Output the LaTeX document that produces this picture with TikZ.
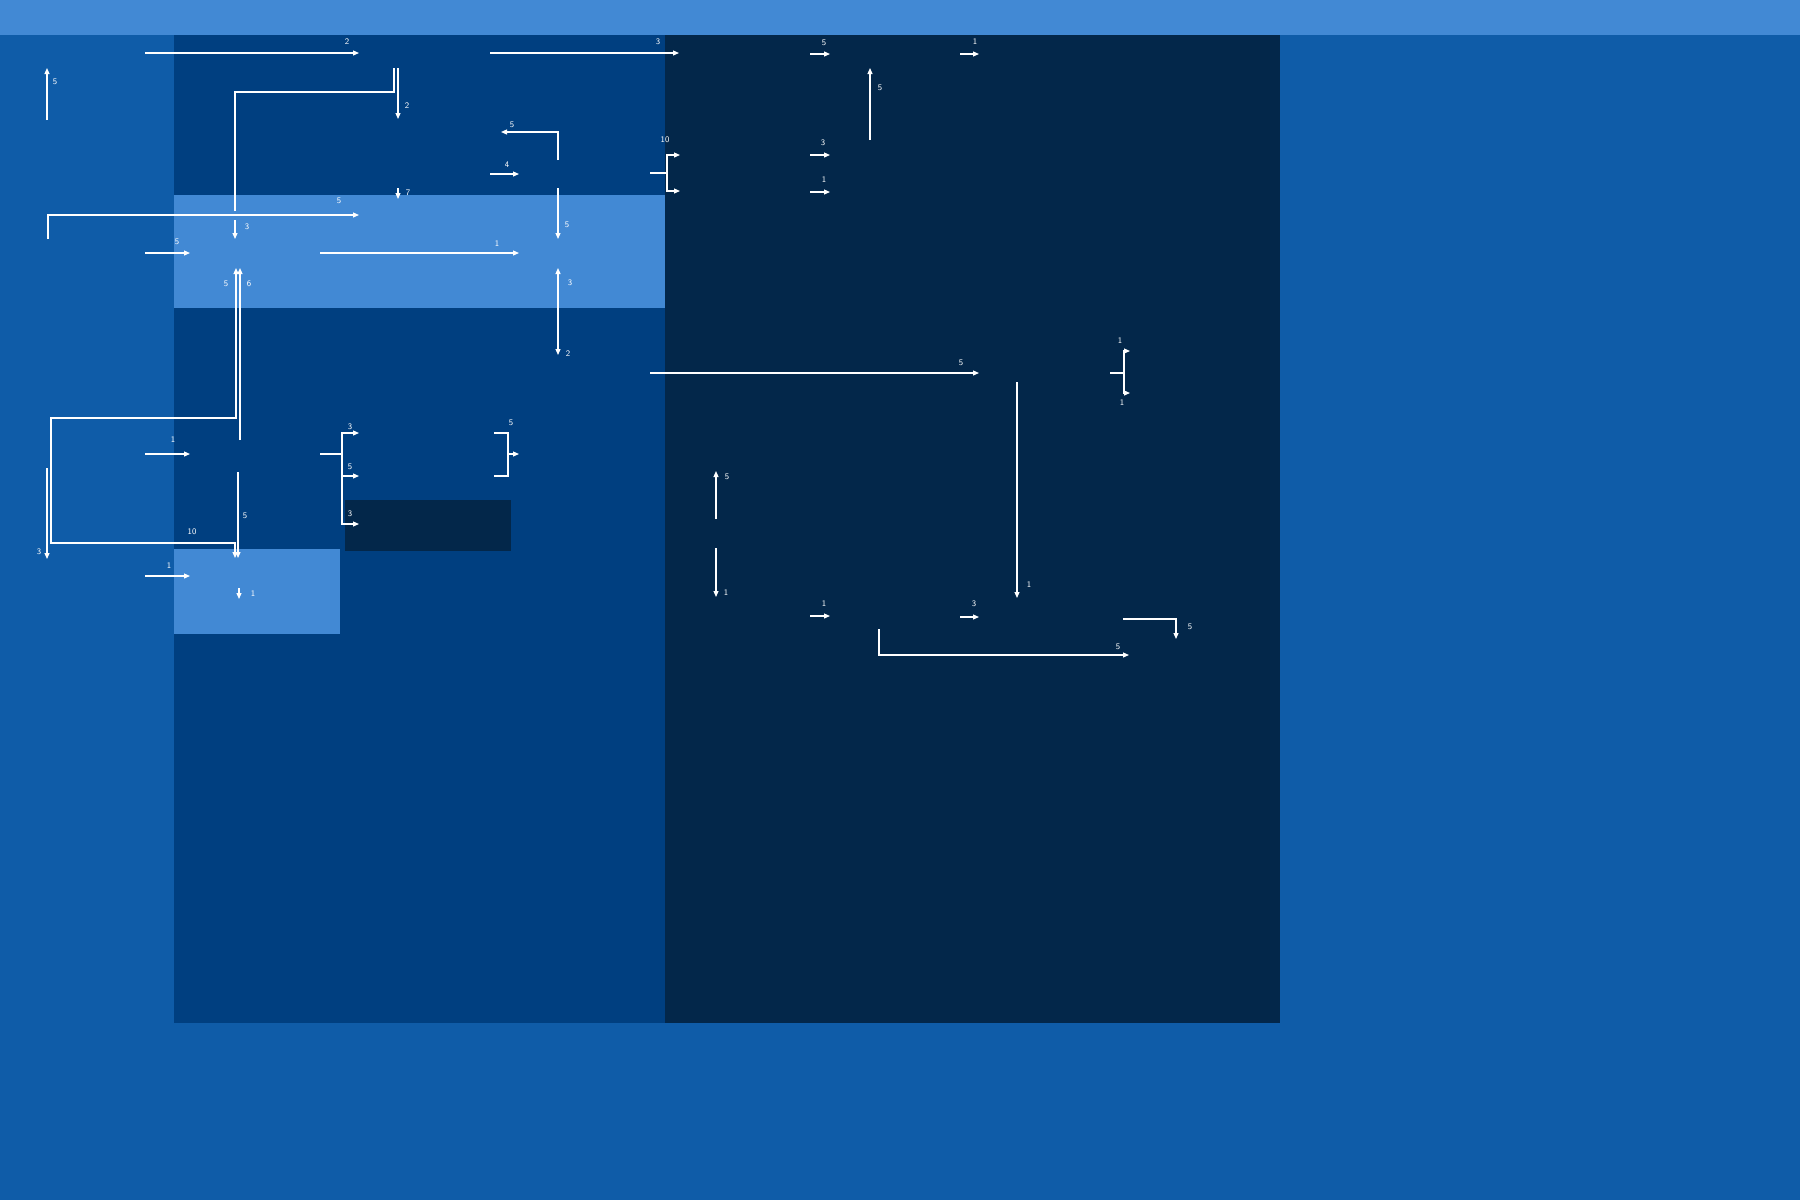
\documentclass[tikz,border=0pt]{standalone}
\usetikzlibrary{arrows.meta}
\definecolor{bgMid}{HTML}{0F5CA8}
\definecolor{barLight}{HTML}{4289D4}
\definecolor{laneBlue}{HTML}{003F80}
\definecolor{laneNavy}{HTML}{03274A}

\begin{document}
\begin{tikzpicture}[x=1pt, y=-1pt, >={Triangle[length=6pt, width=5pt]},
          flow/.style={draw=white, line width=1.2pt},
          tip/.style={flow, ->},
          lbl/.style={text=white, inner sep=0pt, font=\sffamily\fontsize{8.5}{9}\selectfont}]
        \useasboundingbox (0,0) rectangle (1800,1200);
        % lanes and bands
        \fill[bgMid] (0,0) rectangle (1800,1200);
        \fill[barLight] (0,0) rectangle (1800,35);
        \fill[laneBlue] (174,35) rectangle (665,1023);
        \fill[laneNavy] (665,35) rectangle (1280,1023);
        \fill[barLight] (174,195) rectangle (665,308);
        \fill[barLight] (174,549) rectangle (340,634);
        \fill[laneNavy] (345,500) rectangle (511,551);
        % end points
        \coordinate (a1) at (145,53);  \coordinate (a2) at (359,53);
        \coordinate (b1) at (490,53);  \coordinate (b2) at (679,53);
        \coordinate (c1) at (810,54);  \coordinate (c2) at (830,54);
        \coordinate (d1) at (960,54);  \coordinate (d2) at (979,54);
        \coordinate (e1) at (47,120);  \coordinate (e2) at (47,68);
        \coordinate (f1) at (235,211); \coordinate (f2) at (394,68);
        \coordinate (g1) at (398,68);  \coordinate (g2) at (398,119);
        \coordinate (h1) at (870,140); \coordinate (h2) at (870,68);
        \coordinate (i1) at (558,160); \coordinate (i2) at (501,132);
        \coordinate (j1) at (490,174); \coordinate (j2) at (519,174);
        \coordinate (k0) at (650,173); \coordinate (k1) at (680,155); \coordinate (k2) at (680,191);
        \coordinate (m1) at (810,155); \coordinate (m2) at (830,155);
        \coordinate (n1) at (810,192); \coordinate (n2) at (830,192);
        \coordinate (o1) at (398,188); \coordinate (o2) at (398,199);
        \coordinate (p1) at (48,239);  \coordinate (p2) at (359,215);
        \coordinate (q1) at (235,220); \coordinate (q2) at (235,239);
        \coordinate (r1) at (145,253); \coordinate (r2) at (190,253);
        \coordinate (s1) at (320,253); \coordinate (s2) at (519,253);
        \coordinate (t1) at (558,188); \coordinate (t2) at (558,239);
        \coordinate (u1) at (558,268); \coordinate (u2) at (558,355);
        \coordinate (v1) at (240,440); \coordinate (v2) at (240,268);
        \coordinate (w1) at (236,268); \coordinate (w2) at (235,558);
        \coordinate (x1) at (238,472); \coordinate (x2) at (238,558);
        \coordinate (y1) at (47,468);  \coordinate (y2) at (47,559);
        \coordinate (z1) at (145,454); \coordinate (z2) at (190,454);
        \coordinate (aa1) at (145,576); \coordinate (aa2) at (190,576);
        \coordinate (bb1) at (239,588); \coordinate (bb2) at (239,599);
        \coordinate (cc0) at (320,454); \coordinate (cc1) at (359,433); \coordinate (cc2) at (359,476); \coordinate (cc3) at (359,524);
        \coordinate (dd1) at (494,433); \coordinate (dd2) at (494,476); \coordinate (dd3) at (519,454);
        \coordinate (ee1) at (650,373); \coordinate (ee2) at (979,373);
        \coordinate (ff0) at (1110,373); \coordinate (ff1) at (1130,351); \coordinate (ff2) at (1130,393);
        \coordinate (gg1) at (716,519); \coordinate (gg2) at (716,471);
        \coordinate (hh1) at (716,548); \coordinate (hh2) at (716,597);
        \coordinate (ii1) at (1017,382); \coordinate (ii2) at (1017,598);
        \coordinate (jj1) at (810,616); \coordinate (jj2) at (830,616);
        \coordinate (kk1) at (960,617); \coordinate (kk2) at (979,617);
        \coordinate (ll1) at (1123,619); \coordinate (ll2) at (1176,639);
        \coordinate (mm1) at (879,629); \coordinate (mm2) at (1129,655);
        % connectors
        \draw[tip] (a1) -- (a2);
        \draw[tip] (b1) -- (b2);
        \draw[tip] (c1) -- (c2);
        \draw[tip] (d1) -- (d2);
        \draw[tip] (e1) -- (e2);
        \draw[flow] (f1) -- (235,92) -| (f2);
        \draw[tip] (g1) -- (g2);
        \draw[tip] (h1) -- (h2);
        \draw[tip] (i1) |- (i2);
        \draw[tip] (j1) -- (j2);
        \draw[flow] (k0) -- (667,173);
        \draw[tip] (667,173) |- (k1);
        \draw[tip] (667,173) |- (k2);
        \draw[tip] (m1) -- (m2);
        \draw[tip] (n1) -- (n2);
        \draw[tip] (o1) -- (o2);
        \draw[tip] (p1) |- (p2);
        \draw[tip] (q1) -- (q2);
        \draw[tip] (r1) -- (r2);
        \draw[tip] (s1) -- (s2);
        \draw[tip] (t1) -- (t2);
        \draw[flow, <->] (u1) -- (u2);
        \draw[tip] (v1) -- (v2);
        \draw[flow, <->] (w1) -- (236,418) -- (51,418) -- (51,543) -| (w2);
        \draw[tip] (x1) -- (x2);
        \draw[tip] (y1) -- (y2);
        \draw[tip] (z1) -- (z2);
        \draw[tip] (aa1) -- (aa2);
        \draw[tip] (bb1) -- (bb2);
        \draw[flow] (cc0) -- (342,454);
        \draw[tip] (342,454) |- (cc1);
        \draw[tip] (342,454) |- (cc2);
        \draw[tip] (342,454) |- (cc3);
        \draw[flow] (dd1) -| (508,476) -- (dd2);
        \draw[tip] (508,454) -- (dd3);
        \draw[tip] (ee1) -- (ee2);
        \draw[flow] (ff0) -- (1124,373);
        \draw[tip] (1124,373) |- (ff1);
        \draw[tip] (1124,373) |- (ff2);
        \draw[tip] (gg1) -- (gg2);
        \draw[tip] (hh1) -- (hh2);
        \draw[tip] (ii1) -- (ii2);
        \draw[tip] (jj1) -- (jj2);
        \draw[tip] (kk1) -- (kk2);
        \draw[tip] (ll1) -| (ll2);
        \draw[tip] (mm1) |- (mm2);
        % weights
        \node[lbl] (la) at (347,42) {2};
        \node[lbl] (lb) at (658,42) {3};
        \node[lbl] (lc) at (824,43) {5};
        \node[lbl] (ld) at (975,42) {1};
        \node[lbl] (le) at (55,82) {5};
        \node[lbl] (lg) at (407,106) {2};
        \node[lbl] (lh) at (880,88) {5};
        \node[lbl] (li) at (512,125) {5};
        \node[lbl] (lj) at (507,165) {4};
        \node[lbl] (lk) at (665,140) {10};
        \node[lbl] (lm) at (823,143) {3};
        \node[lbl] (ln) at (824,180) {1};
        \node[lbl] (lo) at (408,193) {7};
        \node[lbl] (lp) at (339,201) {5};
        \node[lbl] (lq) at (247,227) {3};
        \node[lbl] (lr) at (177,242) {5};
        \node[lbl] (ls) at (497,244) {1};
        \node[lbl] (lt) at (567,225) {5};
        \node[lbl] (lu1) at (570,283) {3};
        \node[lbl] (lu2) at (568,354) {2};
        \node[lbl] (lv) at (249,284) {6};
        \node[lbl] (lw1) at (226,284) {5};
        \node[lbl] (lw2) at (192,532) {10};
        \node[lbl] (lx) at (245,516) {5};
        \node[lbl] (ly) at (39,552) {3};
        \node[lbl] (lz) at (173,440) {1};
        \node[lbl] (laa) at (169,566) {1};
        \node[lbl] (lbb) at (253,594) {1};
        \node[lbl] (lcc1) at (350,427) {3};
        \node[lbl] (lcc2) at (350,467) {5};
        \node[lbl] (lcc3) at (350,514) {3};
        \node[lbl] (ldd) at (511,423) {5};
        \node[lbl] (lee) at (961,363) {5};
        \node[lbl] (lff1) at (1120,341) {1};
        \node[lbl] (lff2) at (1122,403) {1};
        \node[lbl] (lgg) at (727,477) {5};
        \node[lbl] (lhh) at (726,593) {1};
        \node[lbl] (lii) at (1029,585) {1};
        \node[lbl] (ljj) at (824,604) {1};
        \node[lbl] (lkk) at (974,604) {3};
        \node[lbl] (lll) at (1190,627) {5};
        \node[lbl] (lmm) at (1118,647) {5};
      \end{tikzpicture}
\end{document}
